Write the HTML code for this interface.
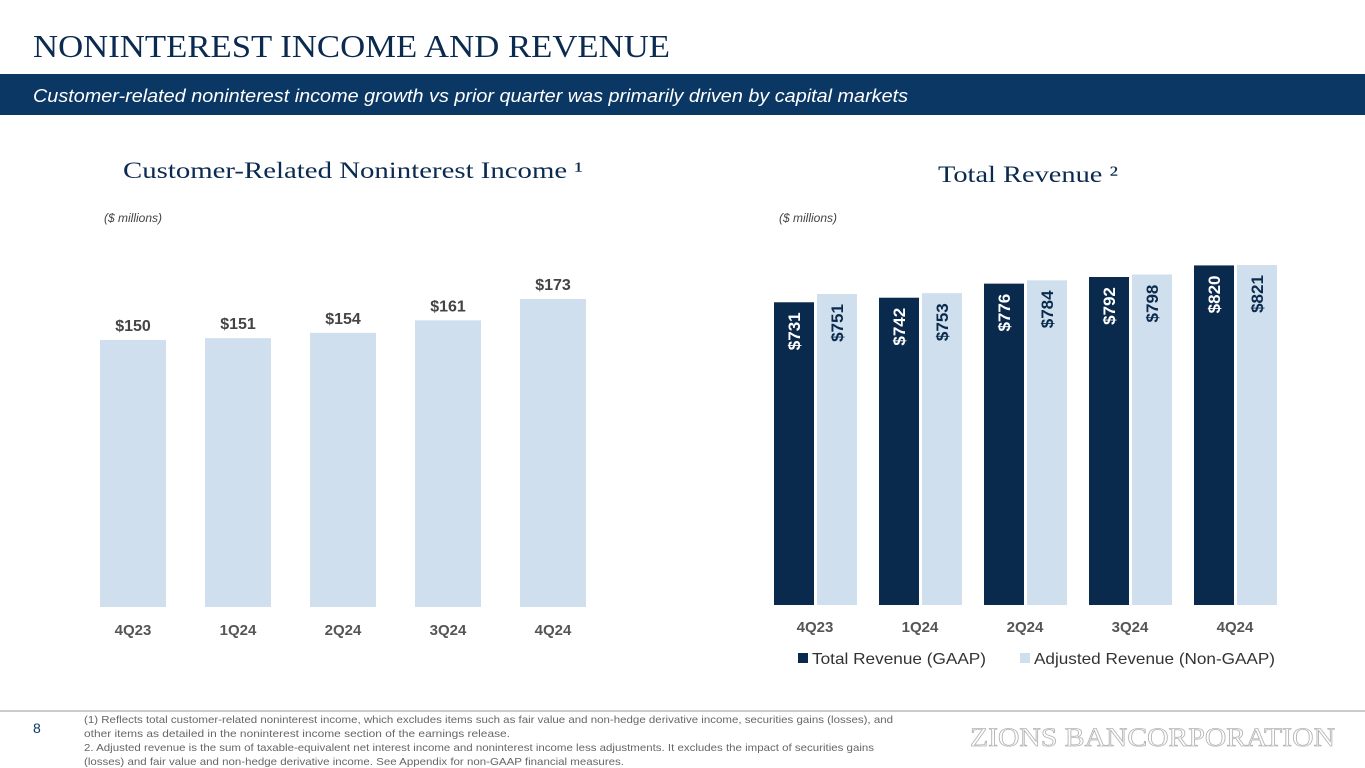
<!DOCTYPE html>
<html><head><meta charset="utf-8"><style>
html,body{margin:0;padding:0;background:#fff;}
svg{display:block;font-family:"Liberation Sans",Arial,sans-serif;}
</style></head><body>
<svg id="page" width="1365" height="768" viewBox="0 0 1365 768">
<text x="33" y="57" font-family="Liberation Serif,serif" font-size="32" fill="#0b2a4f" textLength="637" lengthAdjust="spacingAndGlyphs">NONINTEREST INCOME AND REVENUE</text>
<rect x="0" y="74" width="1365" height="41" fill="#0b3764"/>
<text x="33" y="102" font-size="18.5" font-style="italic" fill="#fff" textLength="875" lengthAdjust="spacingAndGlyphs">Customer-related noninterest income growth vs prior quarter was primarily driven by capital markets</text>
<text x="123" y="178" font-family="Liberation Serif,serif" font-size="23" fill="#0b2a4f" textLength="460" lengthAdjust="spacingAndGlyphs">Customer-Related Noninterest Income ¹</text>
<text x="938" y="182" font-family="Liberation Serif,serif" font-size="23" fill="#0b2a4f" textLength="180" lengthAdjust="spacingAndGlyphs">Total Revenue ²</text>
<text x="104" y="222" font-size="12" font-style="italic" fill="#444">($ millions)</text>
<text x="779" y="222" font-size="12" font-style="italic" fill="#444">($ millions)</text>
<g id="left"></g>
<g id="right"></g>
<rect x="798" y="653" width="10" height="10" fill="#0a2a4d"/>
<text x="812" y="664" font-size="16" fill="#333" textLength="174" lengthAdjust="spacingAndGlyphs">Total Revenue (GAAP)</text>
<rect x="1020" y="653" width="10" height="10" fill="#cfdfed"/>
<text x="1034" y="664" font-size="16" fill="#333" textLength="241" lengthAdjust="spacingAndGlyphs">Adjusted Revenue (Non-GAAP)</text>
<line x1="0" y1="711" x2="1365" y2="711" stroke="#bbb" stroke-width="1.5"/>
<text x="33" y="733" font-size="14" fill="#0b3764">8</text>
<g font-size="10.5" fill="#666">
<text x="84" y="723" textLength="809" lengthAdjust="spacingAndGlyphs">(1) Reflects total customer-related noninterest income, which excludes items such as fair value and non-hedge derivative income, securities gains (losses), and</text>
<text x="84" y="737" textLength="426" lengthAdjust="spacingAndGlyphs">other items as detailed in the noninterest income section of the earnings release.</text>
<text x="84" y="751" textLength="790" lengthAdjust="spacingAndGlyphs">2. Adjusted revenue is the sum of taxable-equivalent net interest income and noninterest income less adjustments. It excludes the impact of securities gains</text>
<text x="84" y="765" textLength="540" lengthAdjust="spacingAndGlyphs">(losses) and fair value and non-hedge derivative income. See Appendix for non-GAAP financial measures.</text>
</g>
<text x="970" y="746" font-family="Liberation Serif,serif" font-size="26" fill="#fff" stroke="#b5b5b5" stroke-width="0.8" textLength="365" lengthAdjust="spacingAndGlyphs">ZIONS BANCORPORATION</text>
</svg>
<script>
const leftCats=["4Q23","1Q24","2Q24","3Q24","4Q24"];
const leftVals=[150,151,154,161,173];
const rightCats=["4Q23","1Q24","2Q24","3Q24","4Q24"];
const gaapVals=[731,742,776,792,820];
const adjVals=[751,753,784,798,821];
const NS="http://www.w3.org/2000/svg";
function mk(tag,attrs,parent){const e=document.createElementNS(NS,tag);for(const k in attrs)e.setAttribute(k,attrs[k]);parent.appendChild(e);return e;}
const L=document.getElementById('left');
const lBase=607,lScale=308/173;
const lx=i=>133+i*105;
const ly=v=>lBase-v*lScale;
leftVals.forEach((v,i)=>{
  const r=mk('rect',{x:lx(i)-33,y:ly(v),width:66,height:lBase-ly(v),fill:'#cfdfed'},L);
  
  
  const t=mk('text',{x:lx(i),y:ly(v)-9,'text-anchor':'middle','font-size':16,'font-weight':'bold',fill:'#444'},L);
  t.textContent='$'+v;
  
  
  const c=mk('text',{x:lx(i),y:635,'text-anchor':'middle','font-size':15,'font-weight':'bold',fill:'#555'},L);
  c.textContent=leftCats[i];
  
  
});
const R=document.getElementById('right');
const rBase=605,rScale=340/821;
const rx=i=>815+i*105;
const ry=v=>rBase-v*rScale;
function bar(v,x,fill,tc,name){
  const r=mk('rect',{x:x,y:ry(v),width:40,height:rBase-ry(v),fill:fill},R);
  
  
  const cx=x+20,cy=ry(v)+29;
  const t=mk('text',{x:cx,y:cy+6,'text-anchor':'middle','font-size':17,'font-weight':'bold',fill:tc,transform:`rotate(-90 ${cx} ${cy})`},R);
  t.textContent='$'+v;
  
  
}
rightCats.forEach((c,i)=>{
  bar(gaapVals[i],rx(i)-41,'#0a2a4d','#fff','gaap-bar-'+c.toLowerCase());
  bar(adjVals[i],rx(i)+2,'#cfdfed','#0a2a4d','adjusted-bar-'+c.toLowerCase());
  const t=mk('text',{x:rx(i),y:632,'text-anchor':'middle','font-size':15,'font-weight':'bold',fill:'#555'},R);
  t.textContent=c;
  
  
});
</script>
</body></html>
